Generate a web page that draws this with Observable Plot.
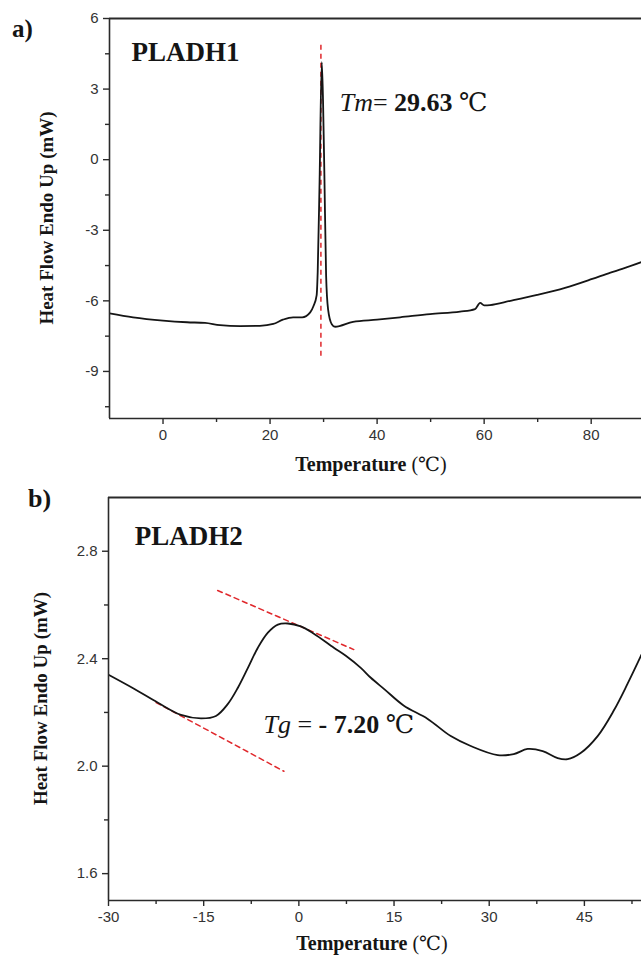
<!DOCTYPE html>
<html><head><meta charset="utf-8">
<script src="https://cdn.jsdelivr.net/npm/d3@7"></script>
<script src="https://cdn.jsdelivr.net/npm/@observablehq/plot@0.6"></script>
<style>
body{margin:0;background:#fff;}
#wrap{position:relative;width:641px;height:961px;overflow:hidden;background:#fff;}
#wrap svg{position:absolute;left:0;display:block;}
</style></head><body><div id="wrap"></div>
<script>
// ---------- Panel a) PLADH1 ----------
const tempA = [-10, -5.6, 0, 4.5, 7.85, 10.65, 14.4, 18.1, 20.6, 22.4, 24.3, 26.0, 27.5, 28.1, 28.7, 28.9, 29.25, 29.66, 29.9, 30.15, 30.47, 30.84, 31.53, 32.15, 35.5, 40, 44.3, 49.9, 55.5, 58.3, 59.25, 60.0, 61.1, 64.9, 69.9, 75.1, 80.2, 83.6, 85.8, 89.4];
const heatA = [-6.53, -6.70, -6.84, -6.91, -6.94, -7.03, -7.07, -7.06, -6.98, -6.80, -6.70, -6.70, -6.49, -6.23, -5.77, -4.78, -0.94, 4.14, 2.48, -0.64, -4.91, -6.36, -6.99, -7.10, -6.89, -6.80, -6.70, -6.56, -6.46, -6.35, -6.09, -6.19, -6.18, -6.00, -5.75, -5.45, -5.07, -4.80, -4.64, -4.35];
const xTicksA = [0, 20, 40, 60, 80];
const xMinorA = [10, 30, 50, 70];
const yTicksA = [-9, -6, -3, 0, 3, 6];
const yMinorA = [-10.5, -7.5, -4.5, -1.5, 1.5, 4.5];
const tmLineX = [29.5];
const tmLineY = [-8.35, 4.95];

// ---------- Panel b) PLADH2 ----------
const tempB = [-30, -25.98, -22.2, -18.58, -15.43, -13.07, -11.18, -9.61, -8.03, -6.46, -4.88, -3.31, -1.73, 0.31, 2.36, 5.51, 7.4, 9.76, 11.34, 13.5, 16.5, 20.31, 23.94, 27.09, 31.34, 33.86, 36.06, 38.43, 40.79, 42.36, 44.41, 47.09, 49.61, 51.81, 54];
const heatB = [2.340, 2.288, 2.236, 2.191, 2.178, 2.187, 2.232, 2.292, 2.366, 2.441, 2.497, 2.527, 2.531, 2.520, 2.493, 2.441, 2.411, 2.366, 2.329, 2.286, 2.226, 2.176, 2.112, 2.075, 2.041, 2.045, 2.064, 2.056, 2.030, 2.026, 2.049, 2.112, 2.206, 2.307, 2.415];
const xTicksB = [-30, -15, 0, 15, 30, 45];
const xMinorB = [-22.5, -7.5, 7.5, 22.5, 37.5, 52.5];
const yTicksB = [1.6, 2.0, 2.4, 2.8];
const yMinorB = [1.8, 2.2, 2.6];
const tangent1X = [-12.8, 8.66];
const tangent1Y = [2.654, 2.434];
const tangent2X = [-22.5, -2.36];
const tangent2Y = [2.237, 1.981];

const serif = "'Liberation Serif','Times New Roman',Times,'DejaVu Serif',serif";
const sans = "'Liberation Sans',Arial,Helvetica,sans-serif";
const ink = "#151515";
const red = "#e0282c";
const hyphenInt = d => (d < 0 ? "-" : "") + Math.abs(d);
const oneDec = d => d.toFixed(1);

function makePanel(o) {
  const frame = "#2a2a2a";
  return Plot.plot({
    width: 641, height: o.height,
    marginTop: o.mt, marginBottom: o.mb, marginLeft: o.ml, marginRight: 0,
    x: {domain: o.xDomain, label: null},
    y: {domain: o.yDomain, label: null},
    style: {fontFamily: sans, fontSize: "15px", color: "#333", background: "transparent", overflow: "visible"},
    marks: [
      Plot.axisX({ticks: o.xMinor, tickSize: 4, tickFormat: () => "", stroke: frame, strokeWidth: 1.4, label: null}),
      Plot.axisX({ticks: o.xMajor, tickSize: 6, tickPadding: 5, stroke: frame, strokeWidth: 1.4, fill: "#333", fontSize: 15, label: null, tickFormat: o.xFormat}),
      Plot.axisY({ticks: o.yMinor, tickSize: 4, tickFormat: () => "", stroke: frame, strokeWidth: 1.4, label: null}),
      Plot.axisY({ticks: o.yMajor, tickSize: 6, tickPadding: 5, stroke: frame, strokeWidth: 1.4, fill: "#333", fontSize: 15, label: null, tickFormat: o.yFormat}),
      ...o.extras,
      Plot.line(o.heats, {x: o.temps, y: o.heats, stroke: ink, strokeWidth: 1.8, curve: o.curve, clip: true}),
      Plot.ruleY([o.yDomain[1]], {stroke: frame, strokeWidth: 2}),
      Plot.ruleY([o.yDomain[0]], {stroke: frame, strokeWidth: 1.6}),
      Plot.ruleX([o.xDomain[0]], {stroke: frame, strokeWidth: 1.6})
    ]
  });
}

function rich(svg, x, y, parts, size, anchor) {
  const t = svg.append("text").attr("x", x).attr("y", y)
    .attr("font-family", serif).attr("font-size", size).attr("fill", ink)
    .attr("text-anchor", anchor || "start");
  for (const p of parts) {
    const s = t.append("tspan").text(p.s);
    if (p.i) s.attr("font-style", "italic");
    if (p.b) s.attr("font-weight", "bold");
    if (p.deg) s.attr("font-family", "'DejaVu Serif','Noto Sans CJK SC',serif").attr("font-size", size * 0.98);
  }
  return t;
}

function decorate(chart, o) {
  const svg = d3.select(chart);
  const xs = chart.scale("x"), ys = chart.scale("y");
  const left = xs.apply(o.xDomain[0]);
  const top = ys.apply(o.yDomain[1]);
  const bottom = ys.apply(o.yDomain[0]);
  rich(svg, left + o.letterDx, top + o.letterDy, [{s: o.letter, b: true}], o.letterSize);
  rich(svg, xs.apply(o.name[0]), ys.apply(o.name[1]), [{s: o.name[2], b: true}], 27);
  rich(svg, xs.apply(o.note[0]), ys.apply(o.note[1]), o.note[2], 26);
  const cy = (top + bottom) / 2, cx = left + o.yTitleDx;
  rich(svg, 0, 0, [{s: "Heat Flow Endo Up (mW)", b: true}], 19, "middle")
    .attr("transform", `translate(${cx},${cy}) rotate(-90)`);
  rich(svg, o.xTitleX, bottom + o.xTitleDy, [{s: "Temperature", b: true}, {s: " ("}, {s: "℃", deg: true}, {s: ")"}], 20, "middle");
}

const wrap = document.getElementById("wrap");

const optA = {
  height: 480, mt: 18, mb: 62, ml: 109,
  xDomain: [-10, 89.4], yDomain: [-11, 6],
  xMajor: xTicksA, xMinor: xMinorA, yMajor: yTicksA, yMinor: yMinorA,
  xFormat: hyphenInt, yFormat: hyphenInt,
  temps: tempA, heats: heatA, curve: "monotone-x",
  extras: [
    Plot.ruleX(tmLineX, {y1: tmLineY[0], y2: tmLineY[1], stroke: red, strokeWidth: 1.5, strokeDasharray: "5,4"})
  ]
};
const chartA = makePanel(optA);
chartA.style.top = "0px";
wrap.appendChild(chartA);
decorate(chartA, {
  ...optA, letter: "a)", letterDx: -97, letterDy: 19, letterSize: 25,
  name: [-5.8, 4.18, "PLADH1"],
  note: [33.1, 2.05, [{s: "T", i: true}, {s: "m", i: true}, {s: "= "}, {s: "29.63", b: true}, {s: " "}, {s: "℃", deg: true}]],
  yTitleDx: -56, xTitleX: 371, xTitleDy: 53
});

const optB = {
  height: 481, mt: 17, mb: 61, ml: 108,
  xDomain: [-30, 54], yDomain: [1.5, 3.0],
  xMajor: xTicksB, xMinor: xMinorB, yMajor: yTicksB, yMinor: yMinorB,
  xFormat: hyphenInt, yFormat: oneDec,
  temps: tempB, heats: heatB, curve: "catmull-rom",
  extras: [
    Plot.line(tangent1Y, {x: tangent1X, y: tangent1Y, stroke: red, strokeWidth: 1.5, strokeDasharray: "5,4"}),
    Plot.line(tangent2Y, {x: tangent2X, y: tangent2Y, stroke: red, strokeWidth: 1.5, strokeDasharray: "5,4"})
  ]
};
const chartB = makePanel(optB);
chartB.style.top = "480px";
wrap.appendChild(chartB);
decorate(chartB, {
  ...optB, letter: "b)", letterDx: -80, letterDy: 10, letterSize: 26,
  name: [-25.8, 2.82, "PLADH2"],
  note: [-5.5, 2.123, [{s: "T", i: true}, {s: "g", i: true}, {s: " = "}, {s: "- 7.20", b: true}, {s: " "}, {s: "℃", deg: true}]],
  yTitleDx: -61, xTitleX: 372, xTitleDy: 50
});
</script>
</body></html>
